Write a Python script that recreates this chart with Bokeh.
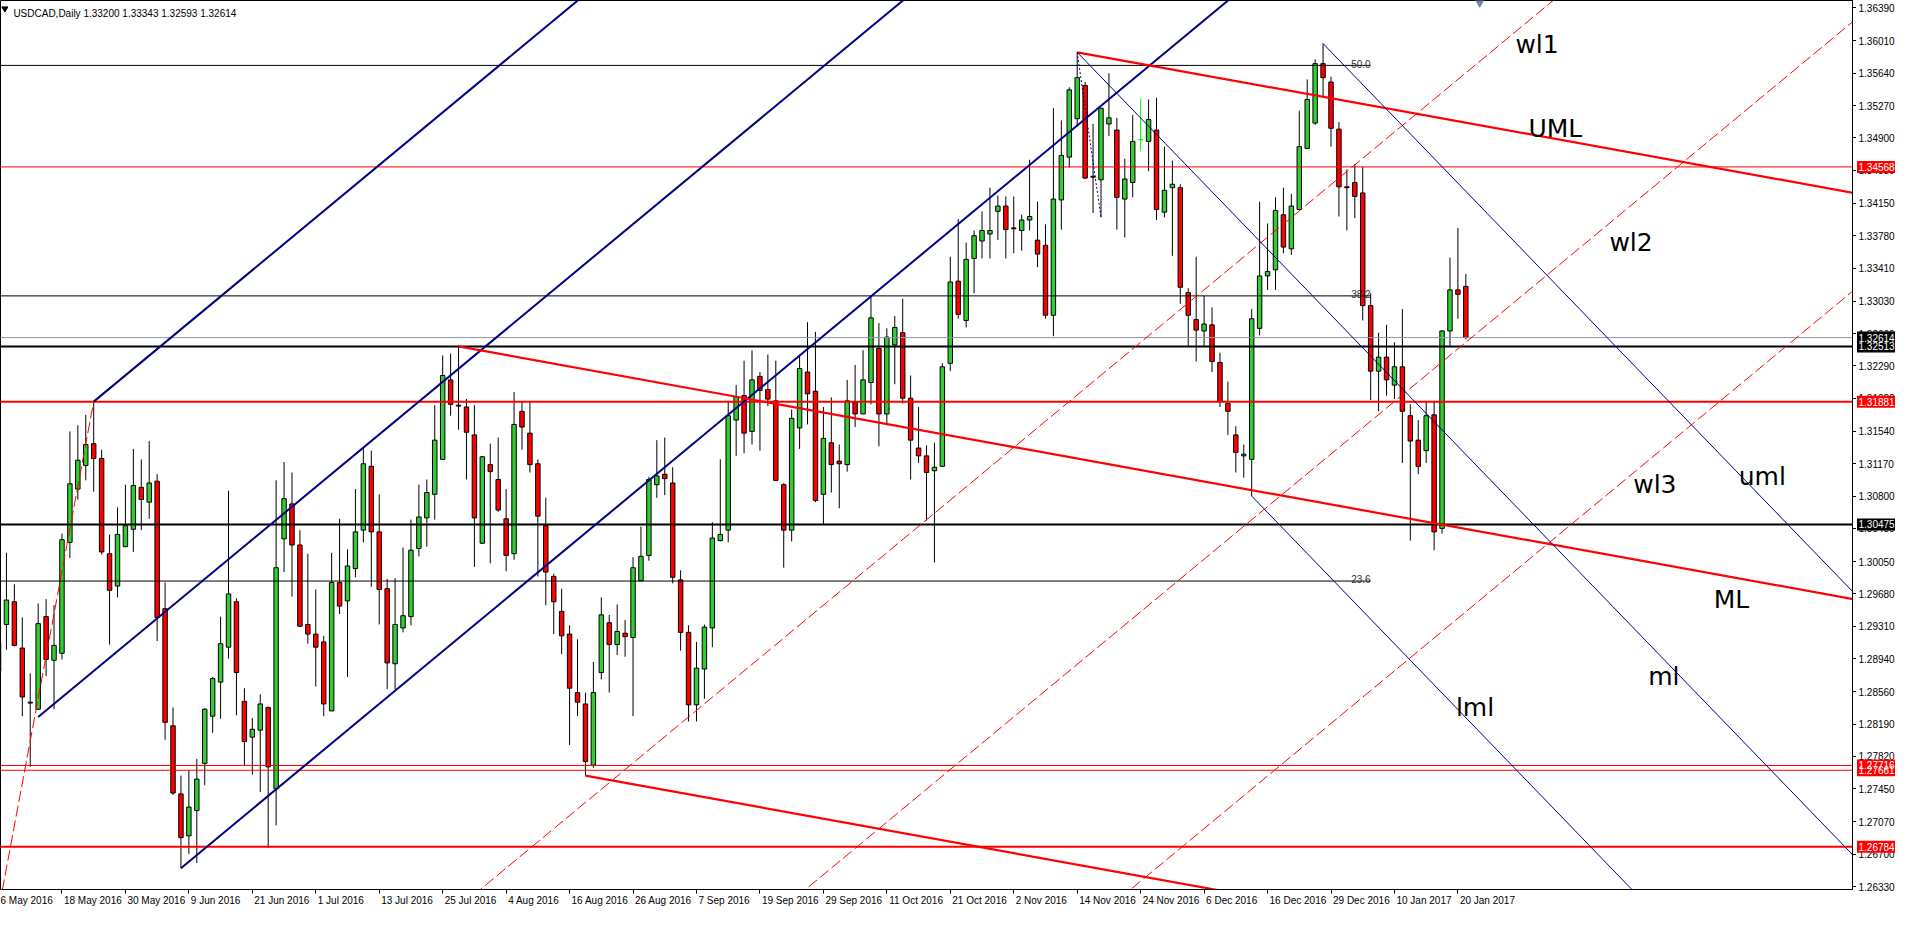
import numpy as np
from bokeh.plotting import figure
from bokeh.layouts import row
from bokeh.models import Range1d, FixedTicker, ColumnDataSource, LinearAxis
from bokeh.core.properties import value
from bokeh.embed import file_html
from bokeh.resources import INLINE

# ---------------- data (daily bars, index 0 = 6 May 2016 ... 185 = 23 Jan 2017) ----------------
opens = [1.2880, 1.2933, 1.2959, 1.2906, 1.2844, 1.2836, 1.2942, 1.2892, 1.2900, 1.3027,
         1.3088, 1.3115, 1.3140, 1.3123, 1.3014, 1.2977, 1.3022, 1.3042, 1.3090, 1.3073,
         1.3097, 1.2951, 1.2817, 1.2739, 1.2691, 1.2720, 1.2774, 1.2828, 1.2867, 1.2907,
         1.2959, 1.2845, 1.2804, 1.2812, 1.2838, 1.2745, 1.3031, 1.3071, 1.3024, 1.2933,
         1.2922, 1.2913, 1.2834, 1.2981, 1.2960, 1.2997, 1.3041, 1.3114, 1.3039, 1.2974,
         1.2888, 1.2929, 1.2942, 1.3020, 1.3055, 1.3082, 1.3122, 1.3213, 1.3184, 1.3182,
         1.3150, 1.3026, 1.3116, 1.3099, 1.3054, 1.3014, 1.3177, 1.3152, 1.3117, 1.3046,
         1.2988, 1.2948, 1.2922, 1.2855, 1.2842, 1.2772, 1.2878, 1.2935, 1.2910, 1.2923,
         1.2918, 1.2983, 1.3012, 1.3093, 1.3105, 1.3095, 1.2984, 1.2924, 1.2841, 1.2882,
         1.2929, 1.3029, 1.3041, 1.3167, 1.3195, 1.3154, 1.3217, 1.3202, 1.3189, 1.3093,
         1.3041, 1.3158, 1.3222, 1.3200, 1.3082, 1.3141, 1.3120, 1.3116, 1.3187, 1.3174,
         1.3210, 1.3249, 1.3174, 1.3253, 1.3267, 1.3192, 1.3135, 1.3126, 1.3109, 1.3114,
         1.3232, 1.3326, 1.3281, 1.3352, 1.3372, 1.3380, 1.3406, 1.3412, 1.3387, 1.3384,
         1.3396, 1.3373, 1.3367, 1.3287, 1.3419, 1.3468, 1.3512, 1.3550, 1.3446, 1.3442,
         1.3506, 1.3499, 1.3420, 1.3439, 1.3488, 1.3486, 1.3499, 1.3405, 1.3433, 1.3433,
         1.3313, 1.3282, 1.3269, 1.3276, 1.3233, 1.3186, 1.3150, 1.3126, 1.3122, 1.3272,
         1.3332, 1.3339, 1.3402, 1.3363, 1.3408, 1.3478, 1.3507, 1.3575, 1.3554, 1.3500,
         1.3434, 1.3439, 1.3427, 1.3298, 1.3223, 1.3239, 1.3207, 1.3228, 1.3172, 1.3144,
         1.3132, 1.3173, 1.3043, 1.3269, 1.3316, 1.33200]
highs = [1.2917, 1.3015, 1.2979, 1.2941, 1.2877, 1.2957, 1.2962, 1.2955, 1.3037, 1.3154,
         1.3161, 1.3173, 1.3188, 1.3133, 1.3036, 1.3067, 1.3093, 1.3134, 1.3122, 1.3143,
         1.3105, 1.2981, 1.2838, 1.2760, 1.2766, 1.2779, 1.2837, 1.2873, 1.2942, 1.3086,
         1.2963, 1.2860, 1.2826, 1.2853, 1.2839, 1.3098, 1.3119, 1.3107, 1.3041, 1.3014,
         1.2973, 1.2920, 1.3015, 1.3054, 1.3019, 1.3088, 1.3136, 1.3132, 1.3082, 1.2985,
         1.2986, 1.3021, 1.3053, 1.3093, 1.3099, 1.3184, 1.3241, 1.3243, 1.3251, 1.3191,
         1.3184, 1.3126, 1.3140, 1.3147, 1.3088, 1.3199, 1.3188, 1.3188, 1.3122, 1.3078,
         1.2991, 1.2974, 1.2932, 1.2916, 1.2855, 1.2890, 1.2964, 1.2944, 1.2956, 1.2938,
         1.3010, 1.3045, 1.3102, 1.3144, 1.3147, 1.3113, 1.2995, 1.2932, 1.2913, 1.2933,
         1.3050, 1.3122, 1.3189, 1.3207, 1.3235, 1.3247, 1.3222, 1.3242, 1.3235, 1.3095,
         1.3179, 1.3242, 1.3279, 1.3268, 1.3182, 1.3193, 1.3139, 1.3213, 1.3230, 1.3247,
         1.3310, 1.3278, 1.3272, 1.3286, 1.3306, 1.3218, 1.3182, 1.3138, 1.3141, 1.3232,
         1.3354, 1.3397, 1.3370, 1.3384, 1.3406, 1.3433, 1.3424, 1.3423, 1.3423, 1.3402,
         1.3465, 1.3417, 1.3391, 1.3524, 1.3510, 1.3548, 1.3588, 1.3554, 1.3506, 1.3524,
         1.3564, 1.3513, 1.3466, 1.3516, 1.3535, 1.3534, 1.3536, 1.3480, 1.3464, 1.3437,
         1.3318, 1.3354, 1.3309, 1.3296, 1.3244, 1.3211, 1.3160, 1.3139, 1.3294, 1.3417,
         1.3392, 1.3422, 1.3433, 1.3426, 1.3521, 1.3557, 1.3580, 1.3598, 1.3560, 1.3508,
         1.3454, 1.3460, 1.3457, 1.3312, 1.3267, 1.3276, 1.3256, 1.3294, 1.3185, 1.3167,
         1.3188, 1.3189, 1.3270, 1.3353, 1.3387, 1.33343]
lows = [1.2855, 1.2904, 1.2908, 1.2828, 1.2770, 1.2835, 1.2874, 1.2836, 1.2893, 1.3009,
        1.3076, 1.3098, 1.3085, 1.3013, 1.2910, 1.2964, 1.3022, 1.3016, 1.3041, 1.3054,
        1.2914, 1.2801, 1.2738, 1.2654, 1.2670, 1.2660, 1.2749, 1.2809, 1.2825, 1.2894,
        1.2829, 1.2772, 1.2761, 1.2741, 1.2677, 1.2703, 1.2993, 1.2965, 1.2930, 1.2911,
        1.2862, 1.2828, 1.2834, 1.2945, 1.2873, 1.2987, 1.3027, 1.2976, 1.2933, 1.2859,
        1.2859, 1.2924, 1.2932, 1.3011, 1.3022, 1.3053, 1.3122, 1.3172, 1.3156, 1.3099,
        1.2999, 1.3025, 1.3003, 1.3062, 1.2994, 1.3007, 1.3133, 1.3107, 1.2988, 1.2955,
        1.2922, 1.2899, 1.2795, 1.2828, 1.2760, 1.2769, 1.2870, 1.2855, 1.2898, 1.2896,
        1.2828, 1.2983, 1.3006, 1.3078, 1.3081, 1.2980, 1.2903, 1.2822, 1.2822, 1.2848,
        1.2907, 1.3028, 1.3027, 1.3126, 1.3129, 1.3139, 1.3132, 1.3183, 1.3097, 1.2998,
        1.3028, 1.3134, 1.3162, 1.3073, 1.3047, 1.3084, 1.3066, 1.3108, 1.3159, 1.3174,
        1.3185, 1.3137, 1.3161, 1.3208, 1.3186, 1.3099, 1.3118, 1.3052, 1.3004, 1.3114,
        1.3223, 1.3283, 1.3273, 1.3312, 1.3352, 1.3352, 1.3373, 1.3352, 1.3358, 1.3361,
        1.3384, 1.3342, 1.3283, 1.3263, 1.3385, 1.3456, 1.3503, 1.3443, 1.3404, 1.3399,
        1.3492, 1.3385, 1.3376, 1.3422, 1.3475, 1.3452, 1.3396, 1.3399, 1.3355, 1.3300,
        1.3252, 1.3234, 1.3252, 1.3222, 1.3182, 1.3150, 1.3107, 1.3101, 1.3080, 1.3264,
        1.3316, 1.3316, 1.3358, 1.3356, 1.3408, 1.3478, 1.3505, 1.3537, 1.3480, 1.3400,
        1.3384, 1.3398, 1.3281, 1.3190, 1.3177, 1.3195, 1.3191, 1.3118, 1.3029, 1.3105,
        1.3118, 1.3018, 1.3037, 1.3252, 1.3283, 1.32593]
closes = [1.2912, 1.2961, 1.2909, 1.2850, 1.2843, 1.2934, 1.2893, 1.2909, 1.3030, 1.3094,
          1.3121, 1.3139, 1.3123, 1.3016, 1.2972, 1.3036, 1.3046, 1.3092, 1.3076, 1.3095,
          1.2941, 1.2821, 1.2740, 1.2689, 1.2724, 1.2756, 1.2836, 1.2871, 1.2911, 1.2968,
          1.2878, 1.2799, 1.2813, 1.2842, 1.2770, 1.2998, 1.3077, 1.3024, 1.2931, 1.2922,
          1.2907, 1.2842, 1.2981, 1.2954, 1.3000, 1.3039, 1.3117, 1.3039, 1.2973, 1.2889,
          1.2933, 1.2943, 1.3018, 1.3056, 1.3084, 1.3144, 1.3218, 1.3185, 1.3183, 1.3153,
          1.3055, 1.3125, 1.3108, 1.3064, 1.3012, 1.3162, 1.3159, 1.3116, 1.3057, 1.2993,
          1.2959, 1.2920, 1.2860, 1.2844, 1.2776, 1.2855, 1.2944, 1.2910, 1.2925, 1.2919,
          1.2998, 1.3011, 1.3099, 1.3103, 1.3100, 1.2987, 1.2924, 1.2841, 1.2883, 1.2930,
          1.3032, 1.3036, 1.3172, 1.3194, 1.3152, 1.3213, 1.3201, 1.3191, 1.3098, 1.3041,
          1.3169, 1.3226, 1.3197, 1.3075, 1.3146, 1.3116, 1.3117, 1.3189, 1.3174, 1.3213,
          1.3284, 1.3174, 1.3262, 1.3273, 1.3192, 1.3144, 1.3126, 1.3107, 1.3113, 1.3228,
          1.3325, 1.3288, 1.3351, 1.3378, 1.3384, 1.3384, 1.3412, 1.3385, 1.3386, 1.3396,
          1.3400, 1.3357, 1.3287, 1.3420, 1.3470, 1.3545, 1.3559, 1.3444, 1.3445, 1.3524,
          1.3513, 1.3422, 1.3443, 1.3486, 1.3488, 1.3511, 1.3408, 1.3430, 1.3437, 1.3319,
          1.3287, 1.3270, 1.3277, 1.3234, 1.3188, 1.3177, 1.3130, 1.3128, 1.3283, 1.3332,
          1.3337, 1.3407, 1.3365, 1.3412, 1.3480, 1.3534, 1.3575, 1.3559, 1.3501, 1.3434,
          1.3433, 1.3423, 1.3298, 1.3223, 1.3239, 1.3213, 1.3228, 1.3177, 1.3143, 1.3114,
          1.3172, 1.3039, 1.3269, 1.3316, 1.3311, 1.32614]

tick_labels = ["6 May 2016", "18 May 2016", "30 May 2016", "9 Jun 2016", "21 Jun 2016",
               "1 Jul 2016", "13 Jul 2016", "25 Jul 2016", "4 Aug 2016", "16 Aug 2016",
               "26 Aug 2016", "7 Sep 2016", "19 Sep 2016", "29 Sep 2016", "11 Oct 2016",
               "21 Oct 2016", "2 Nov 2016", "14 Nov 2016", "24 Nov 2016", "6 Dec 2016",
               "16 Dec 2016", "29 Dec 2016", "10 Jan 2017", "20 Jan 2017"]
price_ticks = [1.36390, 1.36010, 1.35640, 1.35270, 1.34900, 1.34530, 1.34150, 1.33780,
               1.33410, 1.33030, 1.32660, 1.32290, 1.31920, 1.31540, 1.31170, 1.30800,
               1.30430, 1.30050, 1.29680, 1.29310, 1.28940, 1.28560, 1.28190, 1.27820,
               1.27450, 1.27070, 1.26700, 1.26330]

# horizontal levels
levels = [1.34568, 1.32614, 1.32513, 1.31881, 1.30475, 1.27716, 1.27661, 1.26784]
# fibonacci retracement anchors and ratios
fib_low, fib_high = 1.2455, 1.4691
fib_ratios = [0.236, 0.382, 0.5]
fib_end_bar = 173
# pitchfork pivots (bar index, price)
blue_fork = [(5, 1.2827), (12, 1.31881), (23, 1.2654)]
red_fork = [(58, 1.32513), (136, 1.3588), (74, 1.2760)]
thin_fork = [(136, 1.3588), (167, 1.3598), (158, 1.3080)]
red_trend = [(-3, 1.2460), (12, 1.31881)]
dotted_trend = [(136, 1.3588), (139, 1.3399)]
fork_names = ["wl1", "UML", "wl2", "wl3", "uml", "ML", "ml", "lml"]

# ---------------- figure geometry ----------------
X0, X1 = 0.25, 233.75
Y0, Y1 = 1.26296, 1.36473
FW, FH = 1852, 889       # main frame
TW = 39                  # price-scale column
EXTRA = 14               # the price column reaches a little below the frame
FONT = "Liberation Sans"

p = figure(frame_width=FW, frame_height=FH, output_backend="svg", toolbar_location=None,
           x_range=Range1d(X0, X1), y_range=Range1d(Y0, Y1), y_axis_location="right",
           min_border_left=0, min_border_top=0, min_border_right=0, min_border_bottom=0,
           background_fill_color="white", border_fill_color="white",
           outline_line_color="black", outline_line_width=1)
p.grid.visible = False

# x axis: tick marks at the bars, labels written to the right of each tick
tick_idx = [8 * i for i in range(len(tick_labels))]
xa = p.xaxis[0]
xa.ticker = FixedTicker(ticks=tick_idx)
xa.major_label_overrides = {t: "" for t in tick_idx}
xa.major_label_standoff = 0
xa.major_tick_in = 0
xa.major_tick_out = 4
xa.minor_tick_line_color = None
xa.axis_line_color = "black"

cw = {"0": 556, "1": 556, "2": 556, "3": 556, "4": 556, "5": 556, "6": 556, "7": 556,
      "8": 556, "9": 556, " ": 278, "M": 833, "a": 556, "y": 500, "J": 500, "u": 556,
      "n": 556, "l": 222, "A": 667, "g": 556, "S": 667, "e": 556, "p": 556, "O": 778,
      "c": 500, "t": 278, "N": 722, "o": 556, "v": 500, "D": 722}
px_per_bar = FW / (X1 - X0)
lab_pos = []
for t, s in zip(tick_idx, tick_labels):
    w = sum(cw.get(ch, 556) for ch in s) * 10 / 1000.0
    lab_pos.append(round(t + (w / 2 + 2) / px_per_bar, 3))
xl = LinearAxis(ticker=FixedTicker(ticks=lab_pos),
                major_label_overrides={q: s for q, s in zip(lab_pos, tick_labels)})
xl.major_tick_in = 0
xl.major_tick_out = 0
xl.minor_tick_line_color = None
xl.axis_line_color = None
xl.major_label_standoff = 1
xl.major_label_text_font = FONT
xl.major_label_text_font_size = "10px"
xl.major_label_text_color = "black"
p.add_layout(xl, "below")

# y axis: tick marks; the scale's numbers are written in the column to the right
ya = p.yaxis[0]
ya.ticker = FixedTicker(ticks=price_ticks)
ya.major_label_overrides = {t: "" for t in price_ticks}
ya.major_label_standoff = 0
ya.major_tick_in = 0
ya.major_tick_out = 4
ya.minor_tick_line_color = None
ya.axis_line_color = "black"

# ---------------- candles ----------------
o = np.array(opens); h = np.array(highs); l = np.array(lows); c = np.array(closes)
idx = np.arange(len(o))
fill = np.where(c > o, "#32CD32", np.where(c < o, "#FF0000", "#00FF00"))
edge = np.where(c == o, "#00FF00", "black")
src = ColumnDataSource(dict(x=idx, h=h, l=l, top=np.maximum(o, c), bottom=np.minimum(o, c),
                            fill=fill, edge=edge))
p.segment(x0="x", y0="l", x1="x", y1="h", line_color="edge", line_width=1, source=src)
p.vbar(x="x", width=0.56, top="top", bottom="bottom", fill_color="fill",
       line_color="edge", line_width=1, source=src)

# ---------------- fibonacci ----------------
fib_prices = [fib_low + r * (fib_high - fib_low) for r in fib_ratios]
for fp in fib_prices:
    p.line([-5, fib_end_bar], [fp, fp], line_color="black", line_width=1)
p.text(x=[fib_end_bar] * 3, y=[fp + 0.00018 for fp in fib_prices],
       text=["%.1f" % (r * 100) for r in fib_ratios], text_align="right",
       text_baseline="alphabetic", text_font=value(FONT), text_font_size="10px",
       text_color="#303030")

# ---------------- horizontal levels ----------------
lvl_colors = ["#FF0000", "#8C99AA", "black", "#FF0000", "black", "#FF0000", "#FF0000", "#FF0000"]
lvl_widths = [1, 1, 2, 2, 2, 1, 1, 2]
for v, col, w in zip(levels, lvl_colors, lvl_widths):
    p.line([-5, 245], [v, v], line_color=col, line_width=w)

# ---------------- pitchforks ----------------
XR = 245.0
def fork(piv):
    (x1, y1), (x2, y2), (x3, y3) = piv
    mx, my = (x2 + x3) / 2, (y2 + y3) / 2
    return (my - y1) / (mx - x1)

def ray(x, y, s):
    return [x, XR], [y, y + s * (XR - x)]

s_b = fork(blue_fork)
for (px, py) in blue_fork:
    xs, ys = ray(px, py, s_b)
    p.line(xs, ys, line_color="#000080", line_width=2)
(bx1, by1), _, (bx3, by3) = blue_fork
d = (by1 - s_b * bx1) - (by3 - s_b * bx3)
for k in (1, 2, 3):
    xs = [-10.0, XR]
    ys = [by3 - k * d + s_b * (xx - bx3) for xx in xs]
    p.line(xs, ys, line_color="#FF0000", line_width=1, line_dash="11 4")

s_r = fork(red_fork)
for (px, py) in red_fork:
    xs, ys = ray(px, py, s_r)
    p.line(xs, ys, line_color="#FF0000", line_width=2.2)

s_t = fork(thin_fork)
for (px, py) in thin_fork:
    xs, ys = ray(px, py, s_t)
    p.line(xs, ys, line_color="#000080", line_width=1)

p.line([q[0] for q in red_trend], [q[1] for q in red_trend], line_color="#FF0000",
       line_width=1, line_dash="11 4")
p.line([q[0] for q in dotted_trend], [q[1] for q in dotted_trend], line_color="#000080",
       line_width=1, line_dash="2 2")

# ---------------- names of the lines ----------------
name_x = [191.25, 192.9, 203.1, 206.1, 219.4, 216.25, 208.0, 183.75]
name_y = [1.35975, 1.35013, 1.33700, 1.30938, 1.31028, 1.29613, 1.28730, 1.28379]
p.text(x=name_x, y=name_y, text=fork_names, text_font=value("DejaVu Sans"),
       text_font_size="25px", text_color="black", text_align="left",
       text_baseline="alphabetic")

# ---------------- header and markers ----------------
header = "USDCAD,Daily  %.5f %.5f %.5f %.5f" % (opens[-1], highs[-1], lows[-1], closes[-1])
p.text(x=[1.875], y=[1.36326], text=[header], text_font=value(FONT), text_font_size="10px",
       text_color="black", text_baseline="alphabetic")
p.scatter(x=[0.8], y=[1.36380], marker="inverted_triangle", size=6, color="black")
p.scatter(x=[186.75], y=[1.36455], marker="inverted_triangle", size=9, color="#7A8899")

# ---------------- price scale column (same y scale, slightly taller) ----------------
qy0 = Y0 - EXTRA * (Y1 - Y0) / FH
q = figure(frame_width=TW, frame_height=FH + EXTRA, output_backend="svg", toolbar_location=None,
           x_range=Range1d(0, TW), y_range=Range1d(qy0, Y1), x_axis_location=None,
           y_axis_location=None, min_border=0, outline_line_color=None,
           background_fill_color="white", border_fill_color="white")
q.grid.visible = False
q.text(x=[2] * len(price_ticks), y=price_ticks, text=["%.5f" % v for v in price_ticks],
       text_font=value(FONT), text_font_size="10px", text_color="black",
       text_baseline="middle", text_align="left")
tag_bg = ["#FF0000", "black", "black", "#FF0000", "black", "#FF0000", "#FF0000", "#FF0000"]
order = [0, 2, 1, 3, 4, 6, 5, 7]
tag_src = ColumnDataSource(dict(y=[levels[i] for i in order],
                                bg=[tag_bg[i] for i in order],
                                txt=["%.5f" % levels[i] for i in order]))
q.rect(x=19.5, y="y", width=38, height=12, height_units="screen", fill_color="bg",
       line_color=None, source=tag_src)
q.text(x=2, y="y", text="txt", text_font=value(FONT), text_font_size="10px",
       text_color="white", text_baseline="middle", text_align="left", source=tag_src)

layout = row(p, q)
open("out.html", "w").write(file_html(layout, INLINE))
